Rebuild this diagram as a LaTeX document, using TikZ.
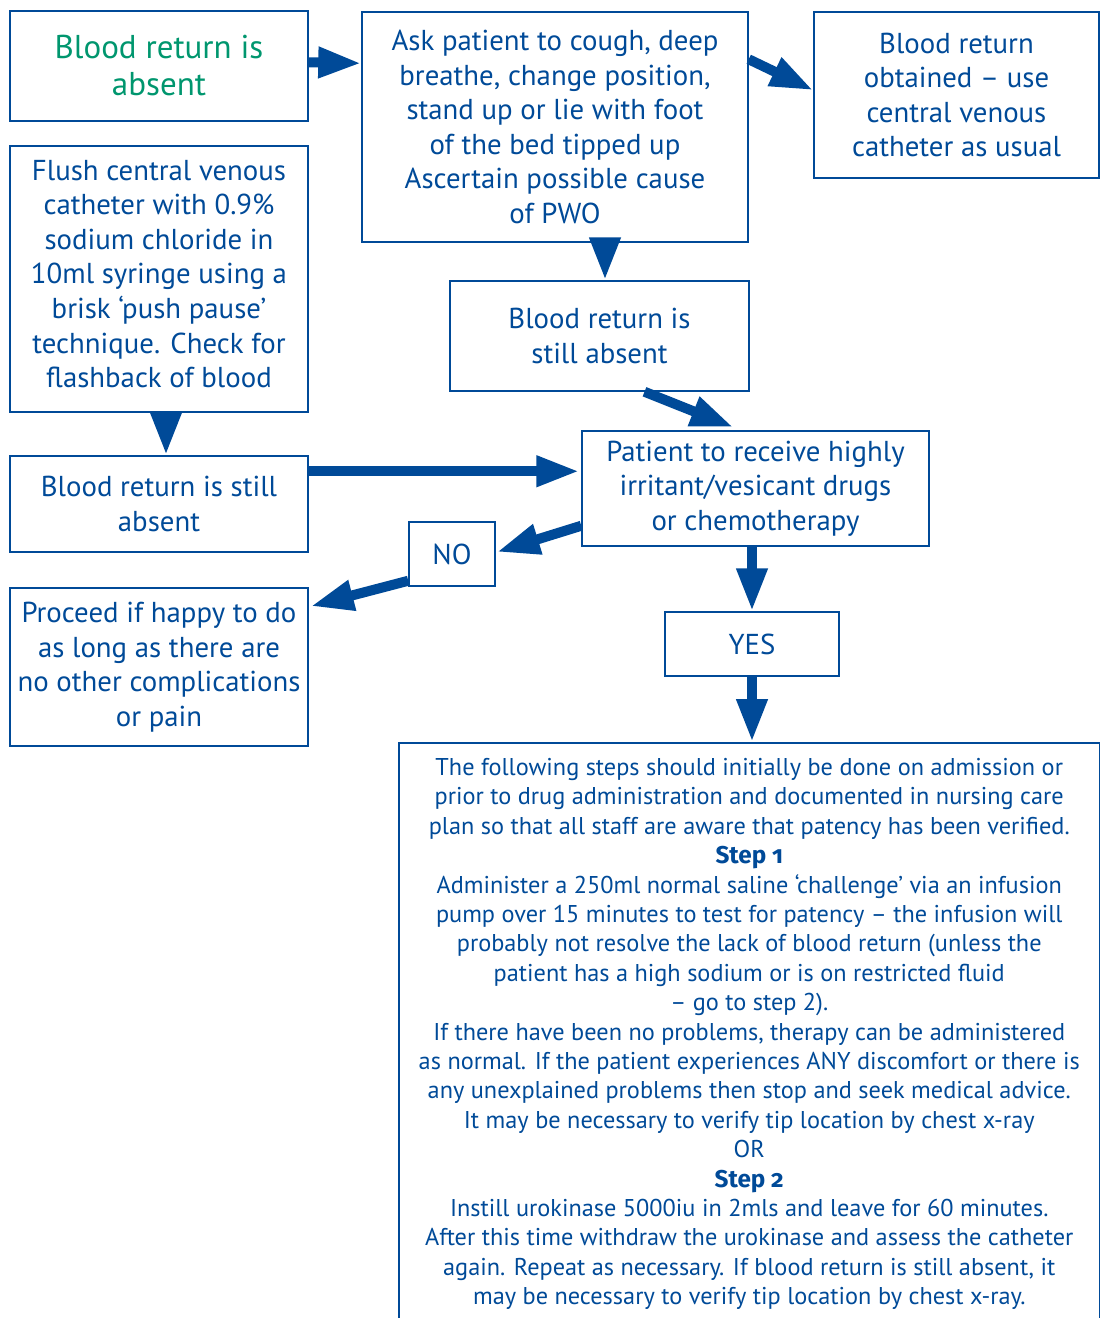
\documentclass[tikz,border=0pt]{standalone}
\usepackage{fontspec}
\setmainfont{PT Sans}
\newfontfamily\stepfont[Numbers=OldStyle]{Fira Sans}
\usetikzlibrary{arrows.meta,calc}
\definecolor{pwoblue}{RGB}{0,74,152}
\definecolor{pwogreen}{RGB}{0,150,110}
\tikzset{
  box/.style={draw=pwoblue,line width=1.5pt,text=pwoblue,align=center,inner sep=0pt,
    font=\fontsize{28.8}{34.6}\selectfont},
  arr/.style={-{Triangle[length=43pt,width=29pt]},line width=10pt,draw=pwoblue}
}
\begin{document}
\begin{tikzpicture}[x=1pt,y=-1pt]
  \path[use as bounding box] (0,0) rectangle (1100,1318);
  \clip (0,0) rectangle (1100,1318);

  % top row
  \node[box,minimum width=298pt,minimum height=110pt,text=pwogreen,
        font=\fontsize{33}{37}\selectfont] (absent) at (159,66) {Blood return is\\absent};
  \node[box,minimum width=386pt,minimum height=230pt] (cough) at (555,127)
    {Ask patient to cough, deep\\breathe, change position,\\stand up or lie with foot\\of the bed tipped up\\Ascertain possible cause\\of PWO};
  \node[box,minimum width=285pt,minimum height=166pt] (obtained) at (956.5,95)
    {Blood return\\obtained -- use\\central venous\\catheter as usual};

  % left column
  \node[box,minimum width=298pt,minimum height=266pt] (flush) at (159,279)
    {\raisebox{5pt}[\height][\depth]{\parbox{298pt}{\centering Flush central venous\\catheter with 0.9\%\\sodium chloride in\\10ml syringe using a\\brisk ‘push pause’\\technique. Check for\\flashback of blood}}};
  \node[box,minimum width=298pt,minimum height=96pt] (stillleft) at (159,504)
    {Blood return is still\\absent};
  \node[box,minimum width=298pt,minimum height=158pt] (proceed) at (159,667)
    {Proceed if happy to do\\as long as there are\\no other complications\\or pain};

  % middle
  \node[box,minimum width=299pt,minimum height=110pt] (stillmid) at (599.5,336)
    {Blood return is\\still absent};
  \node[box,minimum width=347pt,minimum height=115pt] (vesicant) at (755.5,488.5)
    {Patient to receive highly\\irritant/vesicant drugs\\or chemotherapy};
  \node[box,minimum width=86pt,minimum height=64pt] (no) at (452,554) {NO};
  \node[box,minimum width=174pt,minimum height=64pt] (yes) at (752,644) {YES};

  % steps box (runs off the page)
  \node[box,minimum width=701pt,minimum height=640pt,anchor=north west] (steps) at (398,742) {};
  \node[text=pwoblue,align=center,inner sep=0pt,anchor=north,
        font=\fontsize{24.3}{29.4}\selectfont] (stepstext) at ($(steps.north)+(0,16)$)
    {The following steps should initially be done on admission or\\
     prior to drug administration and documented in nursing care\\
     plan so that all staff are aware that patency has been verified.\\
     {\stepfont\bfseries Step 1}\\
     Administer a 250ml normal saline ‘challenge’ via an infusion\\
     pump over 15 minutes to test for patency -- the infusion will\\
     probably not resolve the lack of blood return (unless the\\
     patient has a high sodium or is on restricted fluid\\
     -- go to step 2).\\
     If there have been no problems, therapy can be administered\\
     as normal. If the patient experiences ANY discomfort or there is\\
     any unexplained problems then stop and seek medical advice.\\
     It may be necessary to verify tip location by chest x-ray\\
     OR\\
     {\stepfont\bfseries Step 2}\\
     Instill urokinase 5000iu in 2mls and leave for 60 minutes.\\
     After this time withdraw the urokinase and assess the catheter\\
     again. Repeat as necessary. If blood return is still absent, it\\
     may be necessary to verify tip location by chest x-ray.};

  % arrows
  \draw[arr] ($(absent.north east)+(0,52)$) -- ($(cough.north west)+(0,52)$);
  \draw[arr] ($(cough.north east)+(0,48)$) -- ($(obtained.north west)+(0,79)$);
  \draw[arr] ($(cough.south)+(50,0)$) -- ($(stillmid.north)+(5.5,0)$);
  \draw[arr] ($(stillmid.south)+(45,0)$) -- ($(vesicant.north)+(-22,-3)$);
  \draw[arr] ($(flush.south)+(7,0)$) -- ($(stillleft.north)+(7,0)$);
  \draw[arr] ($(stillleft.north east)+(0,16)$) -- ($(vesicant.north west)+(-2,41)$);
  \draw[arr] ($(vesicant.south west)+(0,-21)$) -- ($(no.east)+(1,-2)$);
  \draw[arr] ($(no.south west)+(0,-6)$) -- ($(proceed.north east)+(2,19)$);
  \draw[arr] (vesicant.south -| yes.north) -- (yes.north);
  \draw[arr] (yes.south) -- (yes.south |- steps.north);
\end{tikzpicture}
\end{document}
